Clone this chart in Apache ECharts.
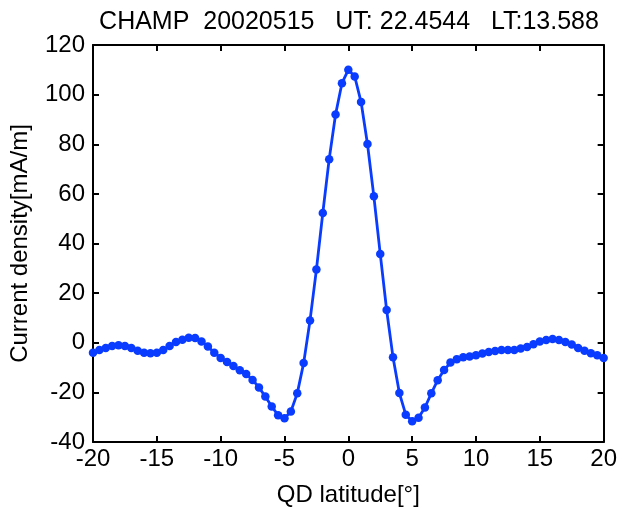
<!DOCTYPE html>
<html>
<head>
<meta charset="utf-8">
<script src="https://cdn.jsdelivr.net/npm/echarts@6/dist/echarts.min.js"></script>
<style>
  html, body { margin: 0; padding: 0; background: #fff; }
  #chart { width: 620px; height: 512px; }
</style>
</head>
<body>
<div id="chart"></div>
<script>
// QD latitude, 0.5 deg steps
var lat = [];
for (var i = 0; i <= 80; i++) { lat.push(-20 + i * 0.5); }

// current density [mA/m]
var current = [
  -4.0, -2.9, -2.1, -1.3, -1.0, -1.3, -2.1, -3.2, -4.0, -4.2,
  -4.0, -2.9, -1.3, 0.3, 1.2, 2.0, 1.9, 0.5, -1.5, -4.0,
  -6.1, -7.8, -9.4, -11.1, -12.6, -15.0, -18.0, -21.7, -25.7, -29.2,
  -30.4, -27.7, -20.4, -8.2, 9.0, 29.5, 52.3, 74.0, 92.0, 104.6,
  110.0, 107.3, 97.0, 80.1, 59.0, 35.8, 13.2, -5.8, -20.3, -29.0,
  -31.6, -30.2, -26.1, -20.4, -15.1, -11.0, -8.0, -6.6, -5.8, -5.5,
  -5.0, -4.3, -3.7, -3.3, -2.9, -2.9, -2.9, -2.3, -1.7, -0.6,
  0.5, 1.1, 1.5, 1.1, 0.3, -0.7, -2.1, -3.2, -4.2, -5.0,
  -6.1
];

var titleText = 'CHAMP  20020515   UT: 22.4544   LT:13.588';
var xName = 'QD latitude[\u00b0]';
var yName = 'Current density[mA/m]';

var pairs = [];
for (var k = 0; k < lat.length; k++) { pairs.push([lat[k], current[k]]); }

var font = 'Liberation Sans, Arial, sans-serif';
var black = '#000';

var chart = echarts.init(document.getElementById('chart'));
chart.setOption({
    animation: false,
    backgroundColor: '#fff',
    title: {
        text: titleText,
        left: 344,
        textAlign: 'center',
        top: 5,
        textStyle: { fontFamily: font, fontSize: 25, fontWeight: 'normal', color: black }
    },
    grid: { left: 93, right: 15, top: 45, bottom: 69 },
    xAxis: [{
        type: 'value',
        min: -20, max: 20, interval: 5,
        name: xName,
        nameLocation: 'middle',
        nameGap: 41,
        nameTextStyle: { fontFamily: font, fontSize: 24, color: black },
        axisLine: { onZero: false, lineStyle: { color: black, width: 2 } },
        axisTick: { inside: true, length: 6, lineStyle: { color: black, width: 2 } },
        axisLabel: { fontFamily: font, fontSize: 24, color: black, margin: 5 },
        splitLine: { show: false }
    }, {
        type: 'value',
        position: 'top',
        min: -20, max: 20, interval: 5,
        axisLine: { onZero: false, lineStyle: { color: black, width: 2 } },
        axisTick: { inside: true, length: 6, lineStyle: { color: black, width: 2 } },
        axisLabel: { show: false },
        splitLine: { show: false }
    }],
    yAxis: [{
        type: 'value',
        min: -40, max: 120, interval: 20,
        name: yName,
        nameLocation: 'middle',
        nameGap: 61,
        nameTextStyle: { fontFamily: font, fontSize: 24, color: black },
        axisLine: { show: true, onZero: false, lineStyle: { color: black, width: 2 } },
        axisTick: { show: true, inside: true, length: 6, lineStyle: { color: black, width: 2 } },
        axisLabel: { fontFamily: font, fontSize: 24, color: black, margin: 8 },
        splitLine: { show: false }
    }, {
        type: 'value',
        position: 'right',
        min: -40, max: 120, interval: 20,
        axisLine: { show: true, onZero: false, lineStyle: { color: black, width: 2 } },
        axisTick: { show: true, inside: true, length: 6, lineStyle: { color: black, width: 2 } },
        axisLabel: { show: false },
        splitLine: { show: false }
    }],
    series: [{
        type: 'line',
        data: pairs,
        symbol: 'circle',
        symbolSize: 8.5,
        showAllSymbol: true,
        itemStyle: { color: '#0a3cff' },
        lineStyle: { color: '#0a3cff', width: 2.8 }
    }]
});
</script>
</body>
</html>
